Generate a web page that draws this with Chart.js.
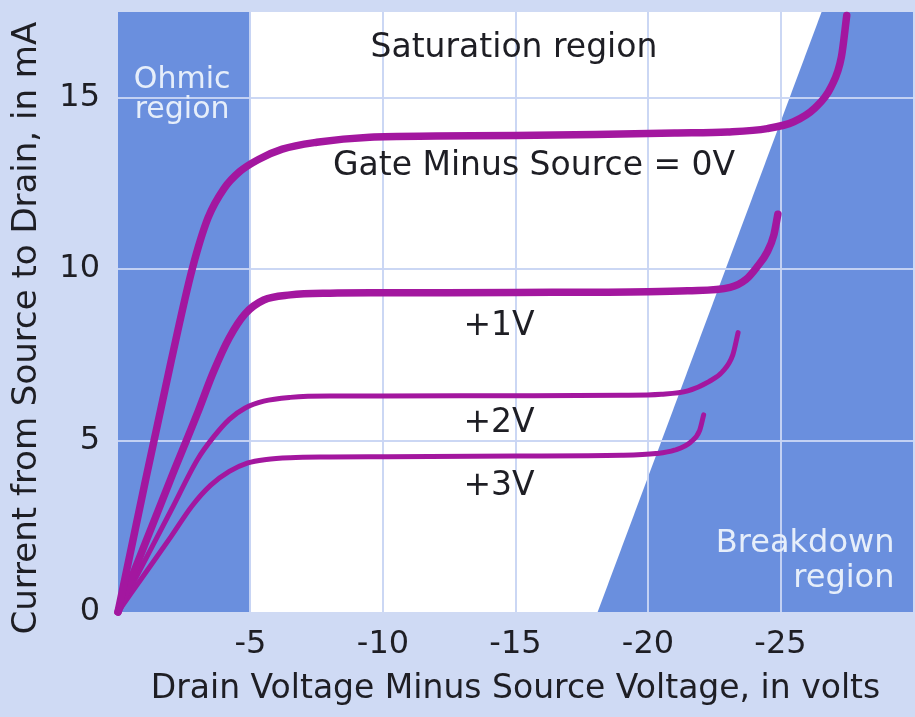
<!DOCTYPE html>
<html>
<head>
<meta charset="utf-8">
<title>JFET drain characteristics</title>
<script src="https://cdn.jsdelivr.net/npm/chart.js@4.4.1/dist/chart.umd.min.js"></script>
<style>
  html, body { margin: 0; padding: 0; background: #cfdaf4; }
  #wrap { width: 915px; height: 717px; }
</style>
</head>
<body>
<div id="wrap"><canvas id="jfetChart" width="915" height="717"></canvas></div>
<script>
// drain-source voltage (V) and drain current (mA)
const vds0 = [0, -1.0, -2.0, -2.8, -3.4, -4.0, -4.6, -5.3, -6.2, -7.5, -9.5, -12, -15, -18, -21, -23, -24.5, -25.5, -26.3, -26.9, -27.3, -27.5];
const id0  = [0, 3.7, 7.3, 10.0, 11.5, 12.35, 12.85, 13.2, 13.5, 13.7, 13.85, 13.88, 13.9, 13.93, 13.97, 14.0, 14.1, 14.3, 14.7, 15.3, 16.2, 17.4];

const vds1 = [0, -1.0, -2.0, -3.0, -3.6, -4.2, -4.8, -5.5, -6.5, -8, -10, -15, -20, -21.5, -23.1, -23.7, -24.1, -24.5, -24.75, -24.9];
const id1  = [0, 1.95, 3.9, 5.8, 7.0, 8.0, 8.7, 9.1, 9.25, 9.3, 9.31, 9.32, 9.34, 9.37, 9.47, 9.7, 10.05, 10.5, 11.0, 11.6];

const vds2 = [0, -1.0, -2.0, -3.0, -3.6, -4.2, -4.8, -5.5, -6.5, -8, -10, -15, -19, -20.5, -21.5, -22.3, -22.8, -23.2, -23.4];
const id2  = [0, 1.48, 2.96, 4.45, 5.1, 5.62, 5.95, 6.15, 6.26, 6.3, 6.3, 6.31, 6.32, 6.35, 6.45, 6.72, 7.0, 7.5, 8.15];

const vds3 = [0, -1.0, -2.0, -2.8, -3.5, -4.2, -4.9, -5.6, -6.5, -8, -10, -15, -19, -20.3, -21.0, -21.6, -21.95, -22.1];
const id3  = [0, 1.1, 2.2, 3.1, 3.7, 4.1, 4.35, 4.45, 4.5, 4.52, 4.53, 4.55, 4.57, 4.62, 4.72, 4.95, 5.3, 5.75];

// operating regions
const ohmicEdge = [0, -5];
const breakdownV = [-18.1, -26.55];
const breakdownI = [0, 17.5];

const xTicks = [-5, -10, -15, -20, -25];
const yTicks = [0, 5, 10, 15];

const pageColor = '#cfdaf4';
const regionBlue = '#6a8fde';
const curveColor = '#a3179f';
const gridColor = 'rgba(200, 213, 243, 0.95)';
const textDark = '#1e1e24';
const textLight = '#e6eefa';

// annotation text, placed in data units
const notes = [
  { text: 'Saturation region', v: -14.94, i: 16.18, align: 'center', color: textDark, size: 33 },
  { text: 'Gate Minus Source = 0V', v: -15.7, i: 12.74, align: 'center', color: textDark, size: 33 },
  { text: '+1V', v: -14.38, i: 8.08, align: 'center', color: textDark, size: 33 },
  { text: '+2V', v: -14.38, i: 5.25, align: 'center', color: textDark, size: 33 },
  { text: '+3V', v: -14.38, i: 3.41, align: 'center', color: textDark, size: 33 },
  { text: 'Ohmic', v: -2.42, i: 15.28, align: 'center', color: textLight, size: 30 },
  { text: 'region', v: -2.42, i: 14.4, align: 'center', color: textLight, size: 30 },
  { text: 'Breakdown', v: -29.3, i: 1.75, align: 'right', color: textLight, size: 32 },
  { text: 'region', v: -29.3, i: 0.73, align: 'right', color: textLight, size: 32 }
];

function pts(vs, is) {
  return vs.map((v, k) => ({ x: v, y: is[k] }));
}

const regionsPlugin = {
  id: 'regions',
  beforeDraw(chart) {
    const { ctx, chartArea: a, scales: { x, y } } = chart;
    ctx.save();
    ctx.fillStyle = pageColor;
    ctx.fillRect(0, 0, chart.width, chart.height);
    ctx.fillStyle = '#ffffff';
    ctx.fillRect(a.left, a.top, a.right - a.left, a.bottom - a.top);

    ctx.fillStyle = regionBlue;
    const o0 = x.getPixelForValue(ohmicEdge[0]);
    const o1 = x.getPixelForValue(ohmicEdge[1]);
    ctx.fillRect(Math.min(o0, o1), a.top, Math.abs(o1 - o0), a.bottom - a.top);

    ctx.beginPath();
    ctx.moveTo(x.getPixelForValue(breakdownV[0]), y.getPixelForValue(breakdownI[0]));
    ctx.lineTo(x.getPixelForValue(breakdownV[1]), y.getPixelForValue(breakdownI[1]));
    ctx.lineTo(a.right, a.top);
    ctx.lineTo(a.right, a.bottom);
    ctx.closePath();
    ctx.fill();
    ctx.restore();
  },
  afterDatasetsDraw(chart) {
    const { ctx, scales: { x, y } } = chart;
    ctx.save();
    ctx.textBaseline = 'alphabetic';
    notes.forEach(n => {
      ctx.font = n.size + 'px "DejaVu Sans"';
      ctx.fillStyle = n.color;
      ctx.textAlign = n.align;
      ctx.fillText(n.text, x.getPixelForValue(n.v), y.getPixelForValue(n.i));
    });
    ctx.restore();
  }
};

function curve(label, vs, is, width) {
  return {
    label: label,
    data: pts(vs, is),
    borderColor: curveColor,
    borderWidth: width,
    borderCapStyle: 'round',
    borderJoinStyle: 'round',
    pointRadius: 0,
    showLine: true,
    fill: false,
    cubicInterpolationMode: 'monotone',
    clip: false
  };
}

Chart.defaults.font.family = '"DejaVu Sans"';
Chart.defaults.color = textDark;

const chart = new Chart(document.getElementById('jfetChart'), {
  type: 'scatter',
  data: {
    datasets: [
      curve('0V', vds0, id0, 7.5),
      curve('+1V', vds1, id1, 7.5),
      curve('+2V', vds2, id2, 5),
      curve('+3V', vds3, id3, 5)
    ]
  },
  options: {
    responsive: false,
    animation: false,
    layout: { padding: { top: 12, right: 2, left: 0, bottom: 0 } },
    plugins: {
      legend: { display: false },
      tooltip: { enabled: false }
    },
    scales: {
      x: {
        type: 'linear',
        min: -30,
        max: 0,
        reverse: true,
        afterBuildTicks: s => { s.ticks = xTicks.map(v => ({ value: v })); },
        afterFit: s => { s.height = 105; s.paddingLeft = 0; s.paddingRight = 0; },
        ticks: { padding: 13, font: { size: 32 }, color: textDark },
        grid: { color: gridColor, lineWidth: 2, drawTicks: false },
        border: { display: false },
        title: {
          display: true,
          text: 'Drain Voltage Minus Source Voltage, in volts',
          font: { size: 33 },
          color: textDark,
          padding: { top: 0, bottom: 8 }
        }
      },
      y: {
        type: 'linear',
        min: 0,
        max: 17.5,
        afterBuildTicks: s => { s.ticks = yTicks.map(v => ({ value: v })); },
        afterFit: s => { s.width = 118; s.paddingTop = 0; s.paddingBottom = 0; },
        ticks: { padding: 18, font: { size: 32 }, color: textDark },
        grid: {
          color: c => (c.tick && c.tick.value === 0 ? 'rgba(0,0,0,0)' : gridColor),
          lineWidth: 2,
          drawTicks: false
        },
        border: { display: false },
        title: {
          display: true,
          text: 'Current from Source to Drain, in mA\u00a0\u00a0\u00a0',
          font: { size: 34 },
          color: textDark,
          padding: { top: 7, bottom: 0 }
        }
      }
    }
  },
  plugins: [regionsPlugin]
});
</script>
</body>
</html>
